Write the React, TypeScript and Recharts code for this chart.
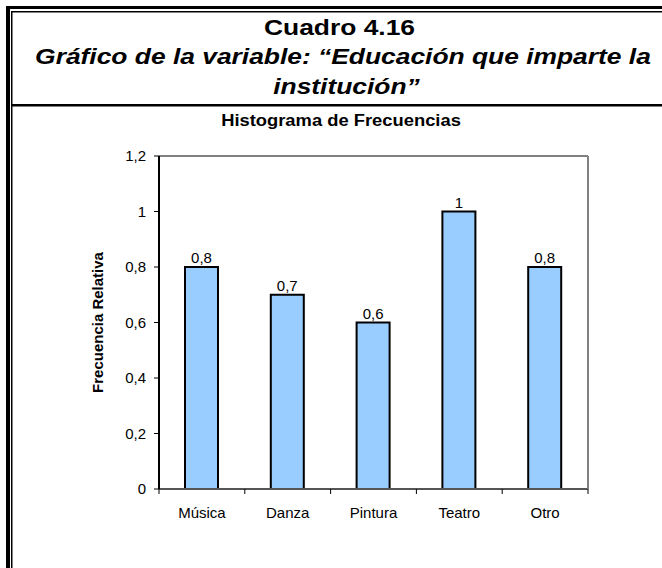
import React from 'react';
import { BarChart, Bar, XAxis, YAxis, LabelList } from 'recharts';

const categories = ['Música', 'Danza', 'Pintura', 'Teatro', 'Otro'];
const frecuenciaRelativa = [0.8, 0.7, 0.6, 1, 0.8];
const yTicks = [0, 0.2, 0.4, 0.6, 0.8, 1, 1.2];
const titleText = 'Cuadro 4.16';
const subtitleLine1 = 'Gráfico de la variable: “Educación que imparte la';
const subtitleLine2 = 'institución”';
const chartTitle = 'Histograma de Frecuencias';
const yLabel = 'Frecuencia Relativa';

const data = categories.map((name, i) => ({ name, value: frecuenciaRelativa[i] }));
const fmt = (v: any) => String(v).replace('.', ',');
const FONT = '"Liberation Sans", Arial, sans-serif';
const X_TICK_MARGIN = 18;

const StretchText = ({ cx, y, sx, size, weight, italic, children }: any) => (
  <text
    x={cx}
    y={y}
    textAnchor="middle"
    fontFamily={FONT}
    fontSize={size}
    fontWeight={weight}
    fontStyle={italic ? 'italic' : 'normal'}
    fill="#000"
    transform={`translate(${cx},0) scale(${sx},1) translate(${-cx},0)`}
  >
    {children}
  </text>
);

const CategoryTick = (props: any) => {
  const { x, y, payload, width, visibleTicksCount, index } = props;
  const band = width / visibleTicksCount;
  const axisY = y - X_TICK_MARGIN;
  const left = x - band / 2;
  const right = x + band / 2;
  return (
    <g>
      <line x1={left} x2={left} y1={axisY} y2={axisY + 5} stroke="#000" strokeWidth={1} />
      {index === visibleTicksCount - 1 && (
        <line x1={right} x2={right} y1={axisY} y2={axisY + 5} stroke="#000" strokeWidth={1} />
      )}
      <text x={x} y={y} dy="0.71em" textAnchor="middle" fill="#000" fontSize={15} fontFamily={FONT}>
        {payload.value}
      </text>
    </g>
  );
};

export default function App() {
  return (
    <div style={{ position: 'absolute', left: 0, top: 0, width: 662, height: 568, overflow: 'hidden', background: '#fff' }}>
      <div style={{ position: 'absolute', left: 0, top: 0 }}>
        <BarChart width={662} height={568} data={data} margin={{ top: 155, right: 73, bottom: 49, left: 37 }}>
          <XAxis
            dataKey="name"
            height={30}
            interval={0}
            axisLine={{ stroke: '#555', strokeWidth: 2 }}
            tickLine={false}
            tickSize={0}
            tickMargin={X_TICK_MARGIN}
            tick={<CategoryTick />}
          />
          <XAxis
            xAxisId="top"
            orientation="top"
            type="number"
            domain={[0, 5]}
            allowDataOverflow
            height={1}
            tick={false}
            tickLine={false}
            axisLine={{ stroke: '#808080', strokeWidth: 2 }}
          />
          <YAxis
            domain={[0, 1.2]}
            ticks={yTicks}
            allowDataOverflow
            width={122}
            tickSize={5}
            tickMargin={8}
            tickFormatter={fmt}
            tick={{ fill: '#000', fontSize: 15, fontFamily: FONT }}
            tickLine={{ stroke: '#000', strokeWidth: 1 }}
            axisLine={{ stroke: '#000', strokeWidth: 2 }}
            label={{
              value: yLabel,
              angle: -90,
              position: 'center',
              style: { fontFamily: FONT, fontSize: 15, fontWeight: 'bold', fill: '#000' },
            }}
          />
          <YAxis
            yAxisId="right"
            orientation="right"
            domain={[0, 1.2]}
            allowDataOverflow
            width={1}
            tick={false}
            tickLine={false}
            axisLine={{ stroke: '#808080', strokeWidth: 2 }}
          />
          <Bar dataKey="value" fill="#99CCFF" stroke="#000" strokeWidth={2} barSize={33} isAnimationActive={false}>
            <LabelList
              dataKey="value"
              position="top"
              offset={4}
              formatter={fmt}
              fill="#000"
              fontSize={15}
              fontFamily={FONT}
            />
          </Bar>
        </BarChart>
      </div>
      <svg width={662} height={568} style={{ position: 'absolute', left: 0, top: 0, pointerEvents: 'none' }}>
        <rect x={6} y={6} width={4} height={562} fill="#000" />
        <rect x={11} y={11} width={1.5} height={557} fill="#000" />
        <rect x={6} y={6} width={656} height={3} fill="#000" />
        <rect x={11} y={11} width={651} height={1.5} fill="#000" />
        <rect x={11} y={104} width={651} height={2.5} fill="#000" />
        <StretchText cx={339.5} y={35} sx={1.2} size={22} weight="bold">{titleText}</StretchText>
        <StretchText cx={343} y={64} sx={1.2} size={22} weight="bold" italic>{subtitleLine1}</StretchText>
        <StretchText cx={346.5} y={94} sx={1.2} size={22} weight="bold" italic>{subtitleLine2}</StretchText>
        <StretchText cx={341} y={125.7} sx={1.08} size={17} weight="bold">{chartTitle}</StretchText>
      </svg>
    </div>
  );
}
